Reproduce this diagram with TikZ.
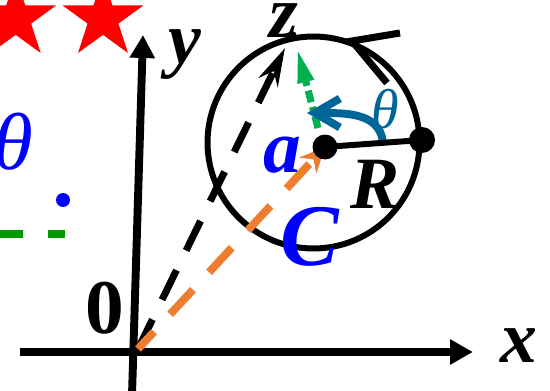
\documentclass[tikz,border=0pt]{standalone}
\usepackage{fontspec}
\setmainfont{Liberation Serif}
\usepackage{tikz}
\usetikzlibrary{arrows.meta,shapes.geometric}
\definecolor{starred}{RGB}{255,0,0}
\definecolor{thetateal}{RGB}{0,102,153}
\definecolor{zgreen}{RGB}{0,176,80}
\definecolor{leggreen}{RGB}{0,153,0}
\definecolor{aorange}{RGB}{237,125,49}
\tikzset{
  axis/.style    = {line width=4.5pt, -{Triangle[length=0.46cm,width=0.48cm]}},
  lbl/.style     = {inner sep=0pt, font=\fontsize{42}{42}\selectfont\bfseries\itshape},
  glbl/.style    = {inner sep=0pt, font=\fontsize{46}{46}\selectfont\itshape},
  dot/.style     = {circle, fill=black, inner sep=0pt, minimum size=0.5cm},
  starnode/.style= {star, star points=5, star point ratio=2.618, fill=starred,
                    inner sep=0pt, minimum size=1.7cm},
  darr/.style    = {line width=4pt, dash pattern=on 18.7pt off 12.5pt,
                    -{Stealth[length=0.76cm,width=0.42cm]}},
  oarr/.style    = {line width=4.5pt, aorange, dash pattern=on 19pt off 13.5pt,
                    dash phase=5.5pt, -{Stealth[length=0.5cm,width=0.46cm]}},
  garr/.style    = {line width=4pt, zgreen,
                    dash pattern=on 6.8pt off 2.8pt on 2.8pt off 2.8pt,
                    -{Triangle[length=0.7cm,width=0.3cm]}},
  tarr/.style    = {line width=4.5pt, thetateal,
                    -{Straight Barb[length=0.5cm,width=0.58cm]}},
  ring/.style    = {line width=3.4pt},
}

\begin{document}
\begin{tikzpicture}[x=0.02cm, y=-0.02cm]

\useasboundingbox (0,0) rectangle (550,391);
\clip (0,0) rectangle (550,391);

%% ── Stars ────────────────────────────────────────────────────────────────
\node[starnode] (star1) at (15.7,18.6) {};
\node[starnode] (star2) at (103,18.6) {};

%% ── Left legend bits ─────────────────────────────────────────────────────
\node[glbl, blue] (thleft) at (13,142) {θ};
\node[dot, fill=blue, minimum size=0.28cm] (bdot) at (63,200) {};
\coordinate (gA) at (65,234);
\coordinate (gB) at (-40,234);
\draw[leggreen, line width=4.5pt, dash pattern=on 13pt off 14.2pt, dash phase=3.4pt] (gA) -- (gB);

%% ── Axes ─────────────────────────────────────────────────────────────────
\coordinate (O)  at (138,349);
\coordinate (xs) at (20,352);
\coordinate (xe) at (473,352);
\coordinate (ys) at (132,395);
\coordinate (ye) at (143,35);
\draw[axis] (xs) -- (xe);
\draw[axis] (ys) -- (ye);

\node[lbl] (xlab) at (519,346) {x};
\node[lbl] (ylab) at (185,55) {y};
\node[lbl, font=\fontsize{44}{44}\selectfont\bfseries] (zero) at (105,308) {0};

%% ── Circle ───────────────────────────────────────────────────────────────
\coordinate (ctr) at (313.5,142.5);
\draw[ring] (ctr) circle[radius=2.12cm];

\coordinate (cw) at (352,41);
\coordinate (cwa) at (400,33);
\coordinate (cwb) at (387,83);
\draw[line width=4pt] (cwa) -- (cw) -- (cwb);

%% ── Vectors ──────────────────────────────────────────────────────────────
\coordinate (zpt) at (285,48);
\draw[darr] (O) -- (zpt);

\coordinate (acen) at (325,147);
\draw[oarr] (O) -- (acen);

\coordinate (gs) at (318,128);
\coordinate (ge) at (297,48);
\draw[garr] (gs) -- (ge);

\coordinate (ts) at (383,142);
\coordinate (te) at (307,113);
\draw[tarr] (ts) .. controls (379,112) and (345,113) .. (te);

%% ── Radius ───────────────────────────────────────────────────────────────
\node[dot] (adot) at (acen) {};
\node[dot, minimum size=0.52cm] (rdot) at (422,140) {};
\draw[ring] (adot.center) -- (rdot.center);
\node[dot, minimum size=0.14cm] (zdot) at (293,35) {};

%% ── Labels ───────────────────────────────────────────────────────────────
\node[lbl] (zlab) at (284,21) {z};
\node[lbl, blue, font=\fontsize{43}{43}\selectfont\bfseries\itshape] (alab) at (282,155) {a};
\node[lbl] (Rlab) at (375,184) {R};
\node[lbl, blue, font=\fontsize{50}{50}\selectfont\bfseries\itshape] (Clab) at (310,237) {C};
\node[glbl, thetateal, font=\fontsize{32}{32}\selectfont\itshape] (thlab) at (385,109) {θ};

\end{tikzpicture}
\end{document}
